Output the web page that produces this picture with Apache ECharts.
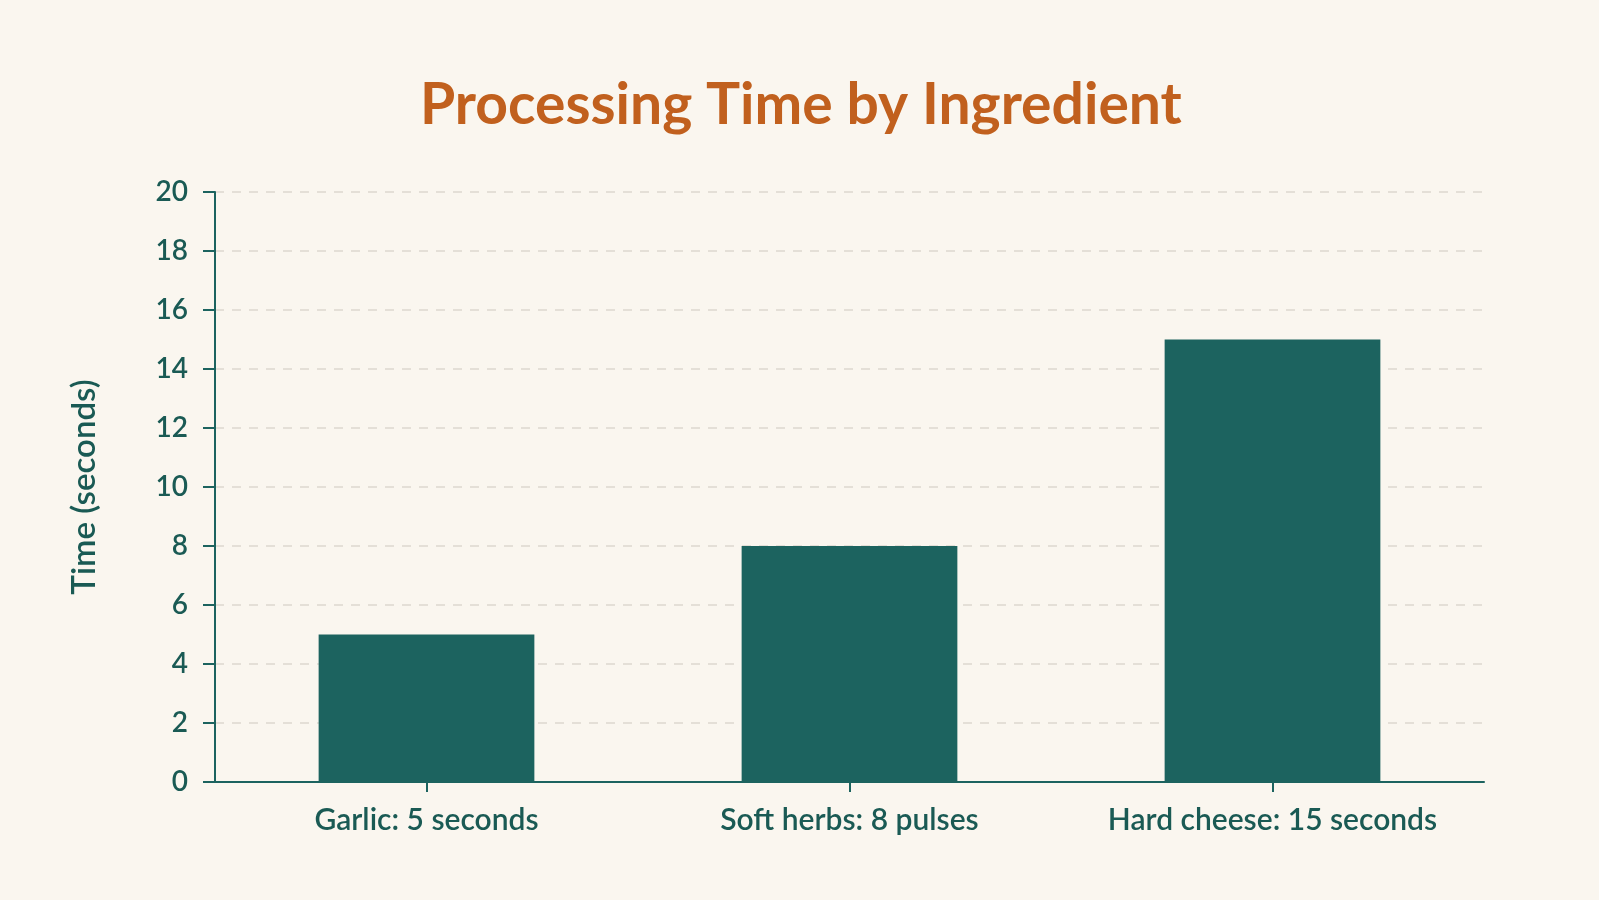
<!DOCTYPE html>
<html>
<head>
<meta charset="utf-8">
<title>Processing Time by Ingredient</title>
<script src="https://cdn.jsdelivr.net/npm/echarts@6/dist/echarts.min.js"></script>
<style>
    html, body { margin: 0; padding: 0; background: #faf6ef; }
    #chart { width: 1599px; height: 900px; }
</style>
</head>
<body>
<div id="chart"></div>
<script>
// data
const ingredients = ['Garlic: 5 seconds', 'Soft herbs: 8 pulses', 'Hard cheese: 15 seconds']
const times = [5, 8, 15]

const teal = '#1c635f'
const ink = '#1a5a54'

const chart = echarts.init(document.getElementById('chart'))

const option = {
    backgroundColor: '#faf6ef',
    textStyle: {
        fontFamily: 'Lato, "Open Sans", sans-serif'
    },
    title: {
        text: 'Processing Time by Ingredient',
        left: 415,
        top: 72,
        textStyle: {
            color: '#c1601e',
            fontSize: 57,
            fontWeight: 'bold'
        }
    },
    grid: {
        left: 215,
        right: 115,
        top: 192,
        bottom: 118
    },
    xAxis: {
        type: 'category',
        data: ingredients,
        axisLine: {
            lineStyle: { color: teal, width: 2 }
        },
        axisTick: {
            show: true,
            alignWithLabel: true,
            interval: 0,
            length: 10,
            lineStyle: { color: teal, width: 2 }
        },
        axisLabel: {
            interval: 0,
            color: ink,
            fontSize: 30,
            fontWeight: 600,
            margin: 23
        }
    },
    yAxis: {
        type: 'value',
        min: 0,
        max: 20,
        interval: 2,
        name: 'Time (seconds)',
        nameLocation: 'middle',
        nameGap: 114,
        nameTextStyle: {
            color: ink,
            fontSize: 33,
            fontWeight: 600
        },
        axisLine: {
            show: true,
            lineStyle: { color: teal, width: 2 }
        },
        axisTick: {
            show: true,
            length: 12,
            lineStyle: { color: teal, width: 2 }
        },
        axisLabel: {
            color: ink,
            fontSize: 28,
            fontWeight: 600,
            margin: 27
        },
        splitLine: {
            lineStyle: { color: '#ddd8cf', type: [9, 8], width: 1.5 }
        }
    },
    series: [
        {
            type: 'bar',
            data: times,
            barWidth: '51%',
            itemStyle: { color: teal }
        }
    ]
}

chart.setOption(option)
</script>
</body>
</html>
